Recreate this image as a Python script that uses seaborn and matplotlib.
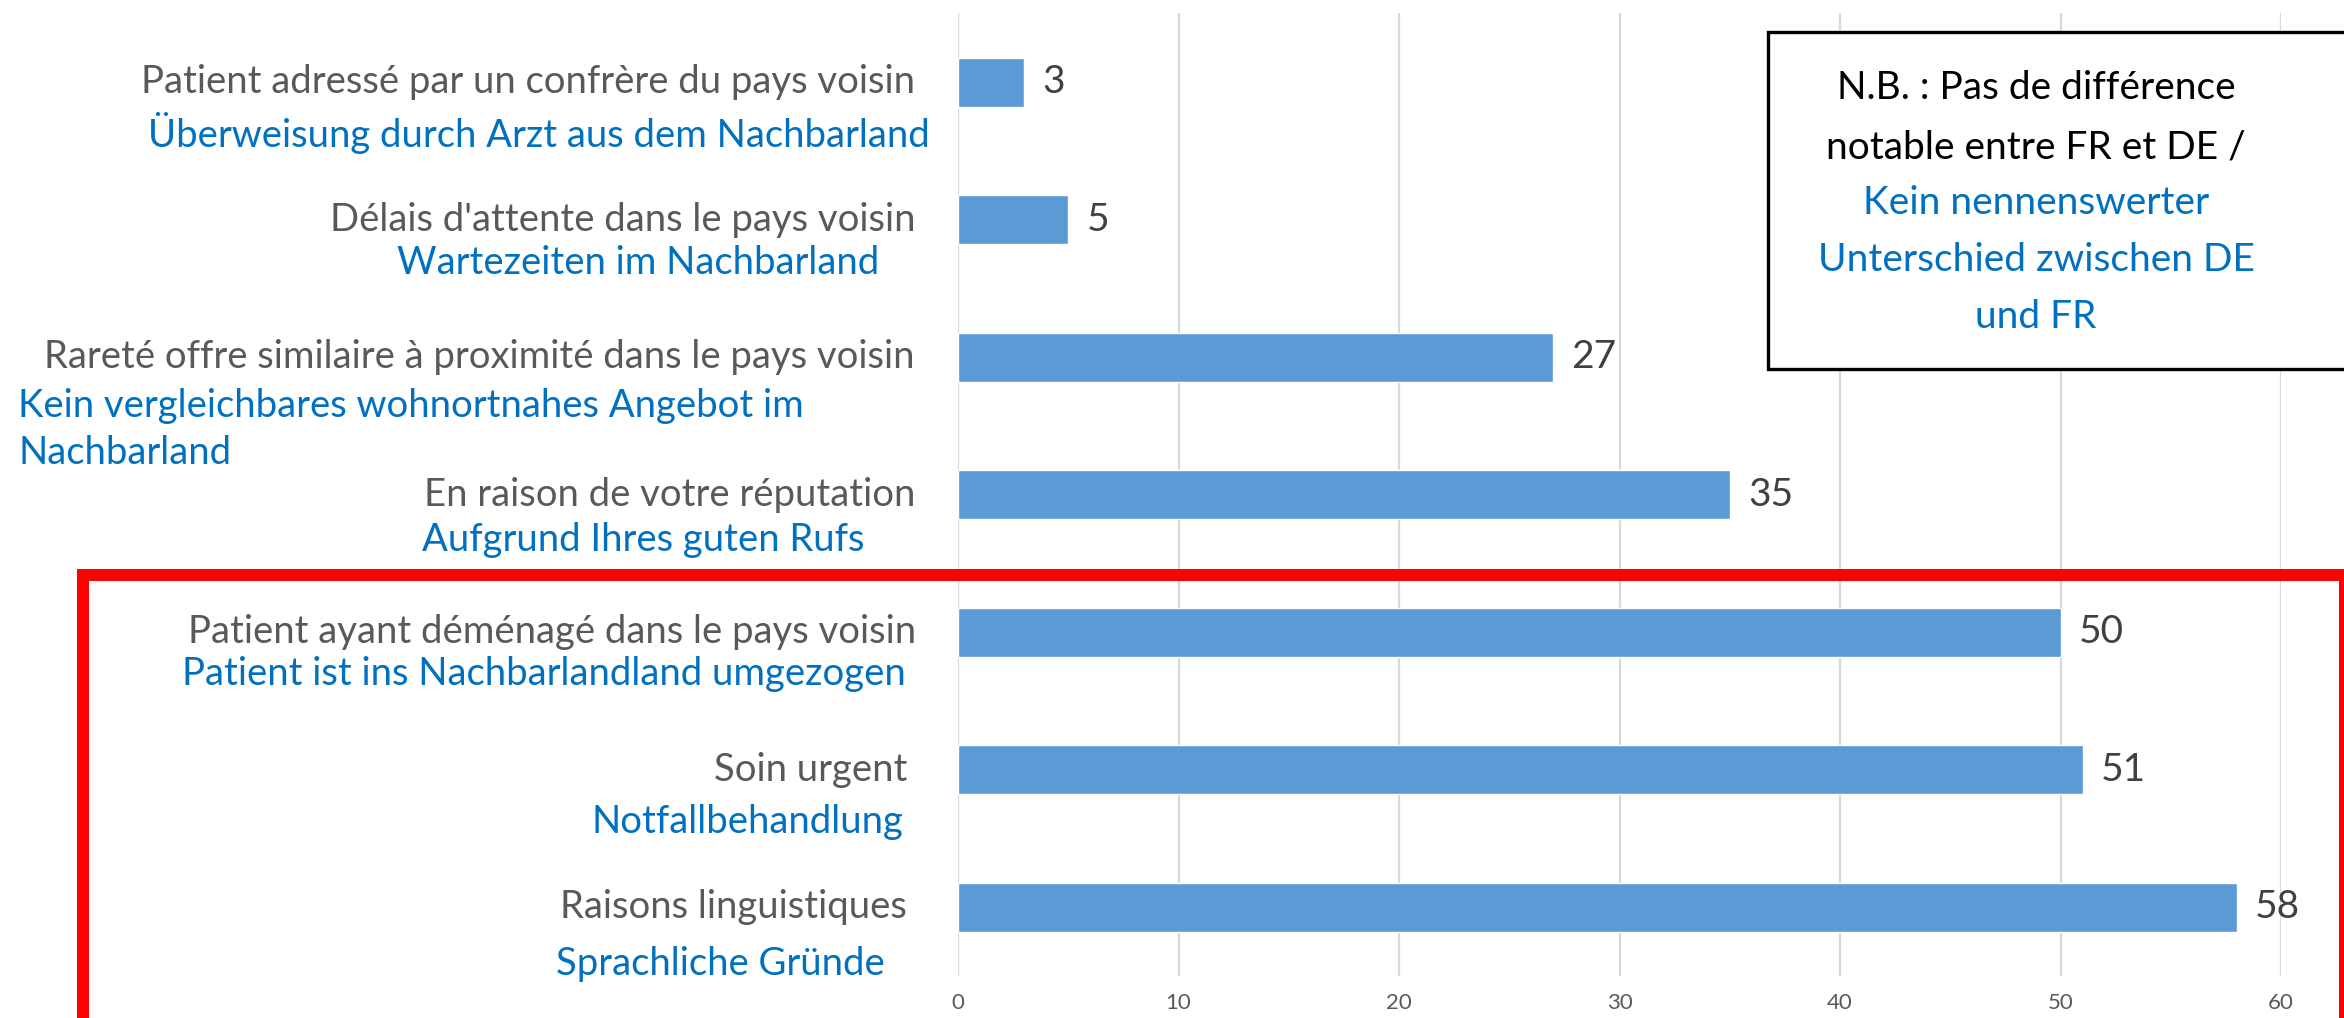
import matplotlib.pyplot as plt
import matplotlib.patches as patches
import matplotlib.transforms as mtransforms
import numpy as np
import pandas as pd
import seaborn as sns

# data
fr_labels = [
    "Patient adressé par un confrère du pays voisin",
    "Délais d'attente dans le pays voisin",
    "Rareté offre similaire à proximité dans le pays voisin",
    "En raison de votre réputation",
    "Patient ayant déménagé dans le pays voisin",
    "Soin urgent",
    "Raisons linguistiques",
]
de_labels = [
    "Überweisung durch Arzt aus dem Nachbarland",
    "Wartezeiten im Nachbarland",
    "Kein vergleichbares wohnortnahes Angebot im\nNachbarland",
    "Aufgrund Ihres guten Rufs",
    "Patient ist ins Nachbarlandland umgezogen",
    "Notfallbehandlung",
    "Sprachliche Gründe",
]
values = [3, 5, 27, 35, 50, 51, 58]
x_ticks = [0, 10, 20, 30, 40, 50, 60]

note_fr = ["N.B. : Pas de différence", "notable entre FR et DE /"]
note_de = ["Kein nennenswerter", "Unterschied zwischen DE", "und FR"]

# layout (pixels in the 2344x1018 output)
W, H = 2344, 1018
fr_right = [915, 915, 915, 915, 916, 907, 907]
de_anchor = [(930, "right"), (879, "right"), (18, "left"), (865, "right"),
             (906, "right"), (903, "right"), (885, "right")]
de_offset = [51, 43, 49, 45, 42, 52, 57]
row_px = 137.5

sns.set_style("white")
plt.rcParams["font.family"] = ["Lato", "DejaVu Sans"]

GREY = "#595959"
BLUE = "#0070C0"
LABEL_FS = 27.5

df = pd.DataFrame({"cat": fr_labels, "val": values})

fig = plt.figure(figsize=(W / 100, H / 100), dpi=100)
ax = fig.add_axes([958 / W, 1 - 976 / H, (2281 - 958) / W, (976 - 13.5) / H])

sns.barplot(data=df, x="val", y="cat", orient="h", color="#5B9BD5",
            saturation=1, width=0.356, ax=ax)

ax.set_xlim(0, 60)
ax.set_xticks(x_ticks)
ax.set_xticklabels([str(t) for t in x_ticks], fontsize=16, color=GREY)
ax.tick_params(axis="x", length=0, pad=12)
ax.set_yticks([])
ax.set_xlabel("")
ax.set_ylabel("")
ax.grid(axis="x", color="#D9D9D9", linewidth=1.6)
ax.grid(axis="y", visible=False)
ax.set_axisbelow(True)
for s in ax.spines.values():
    s.set_visible(False)

ax.bar_label(ax.containers[0], padding=13, fontsize=28, color="#404040")

# two-language category labels
trans = mtransforms.blended_transform_factory(fig.transFigure, ax.transData)
for i, (fr, de) in enumerate(zip(fr_labels, de_labels)):
    ax.text(fr_right[i] / W, i, fr, transform=trans, ha="right", va="center",
            fontsize=LABEL_FS, color=GREY)
    x, ha = de_anchor[i]
    for j, line in enumerate(de.split("\n")):
        y = i + (de_offset[i] + j * 47) / row_px
        ax.text(x / W, y, line, transform=trans, ha=ha, va="center",
                fontsize=LABEL_FS, color=BLUE)

# note box top right
box = patches.Rectangle((1768 / W, 1 - 369 / H), (2450 - 1768) / W, (369 - 32) / H,
                        transform=fig.transFigure, facecolor="white",
                        edgecolor="black", linewidth=2.4, zorder=5)
fig.add_artist(box)
note_y = [88, 147, 203, 260, 317]
for k, line in enumerate(note_fr + note_de):
    fig.text(2036 / W, 1 - note_y[k] / H, line, ha="center", va="center",
             fontsize=28, color="black" if k < len(note_fr) else BLUE, zorder=6)

# red highlight frame
frame = patches.Rectangle((83 / W, 1 - 1100 / H), (2345 - 83) / W, (1100 - 575) / H,
                          transform=fig.transFigure, fill=False,
                          edgecolor="#FF0000", linewidth=8.6, zorder=7)
fig.add_artist(frame)

fig.savefig("out.png", dpi=100)
